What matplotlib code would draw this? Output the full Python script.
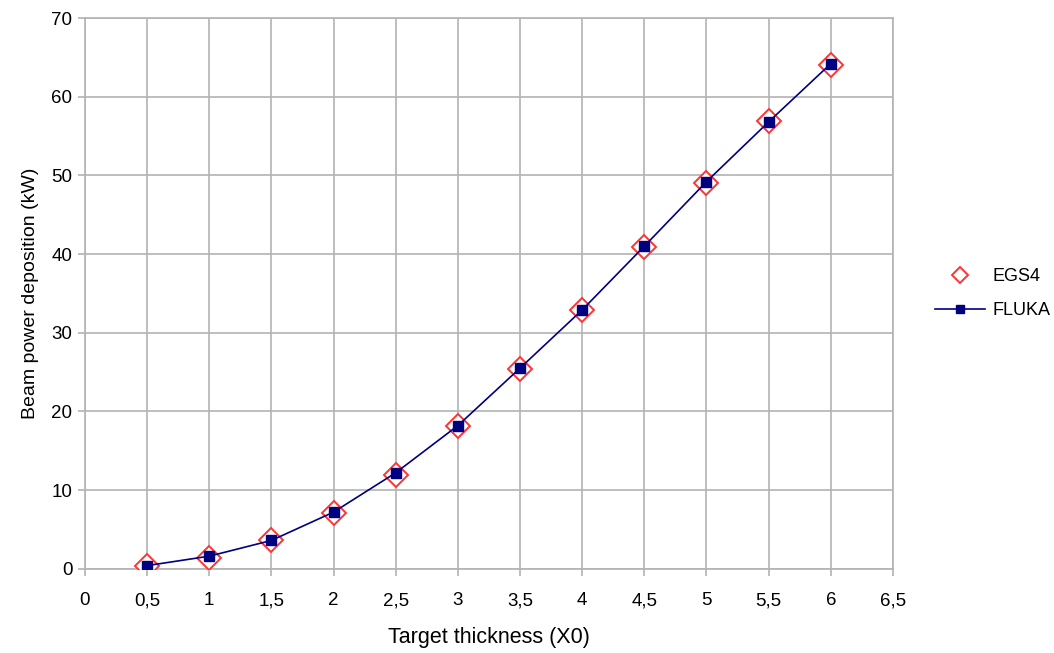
import matplotlib
matplotlib.use("Agg")
import matplotlib.pyplot as plt
from matplotlib.lines import Line2D
from matplotlib.ticker import FuncFormatter, MultipleLocator

thickness = [0.5, 1, 1.5, 2, 2.5, 3, 3.5, 4, 4.5, 5, 5.5, 6]
egs4 = [0.3, 1.4, 3.6, 7.1, 11.9, 18.2, 25.4, 32.9, 40.9, 49.0, 56.9, 64.0]
fluka = [0.4, 1.6, 3.6, 7.2, 12.2, 18.2, 25.5, 32.9, 41.0, 49.2, 56.8, 64.2]

plt.rcParams['font.family'] = ['Liberation Sans', 'DejaVu Sans']

fig = plt.figure(figsize=(10.54, 6.53), dpi=100)
ax = fig.add_axes([0.0806, 0.129, 0.7666, 0.8434])

grid_c = '#b3b3b3'
ax.plot(thickness, egs4, linestyle='none', marker='D', markersize=12,
        markerfacecolor='white', markeredgecolor='#ff3333', markeredgewidth=1.4,
        zorder=3)
ax.plot(thickness, fluka, color='#000080', linewidth=1.2, marker='s',
        markersize=7, markerfacecolor='#000080', markeredgecolor='#000080',
        zorder=4)

ax.set_xlim(0, 6.5)
ax.set_ylim(0, 70)
ax.xaxis.set_major_locator(MultipleLocator(0.5))
ax.yaxis.set_major_locator(MultipleLocator(10))

def fmt(v, pos):
    s = ('%g' % round(v, 2))
    return s.replace('.', ',')

ax.xaxis.set_major_formatter(FuncFormatter(fmt))
ax.yaxis.set_major_formatter(FuncFormatter(fmt))

ax.grid(True, color=grid_c, linewidth=1.2)
ax.set_axisbelow(True)
for sp in ax.spines.values():
    sp.set_color(grid_c)
    sp.set_linewidth(1.2)
ax.tick_params(axis='both', colors=grid_c, length=5, width=1.2,
               labelcolor='#000000', labelsize=13.5)
ax.tick_params(axis='x', pad=12)
ax.tick_params(axis='y', pad=4)

ax.set_xlabel('Target thickness (X0)', fontsize=15.5, labelpad=13)
ax.set_ylabel('Beam power deposition (kW)', fontsize=14, labelpad=9)

handles = [
    Line2D([], [], linestyle='none', marker='D', markersize=8,
           markerfacecolor='white', markeredgecolor='#ff3333', markeredgewidth=1.4),
    Line2D([], [], color='#000080', linewidth=1.2, marker='s', markersize=6.3,
           markerfacecolor='#000080', markeredgecolor='#000080'),
]
fig.legend(handles, ['EGS4', 'FLUKA'], loc='center left',
           bbox_to_anchor=(0.887, 0.55), frameon=False, fontsize=13,
           handlelength=2.75, handletextpad=0.45, labelspacing=0.95,
           borderpad=0, borderaxespad=0)

fig.savefig('out.png', dpi=100)
